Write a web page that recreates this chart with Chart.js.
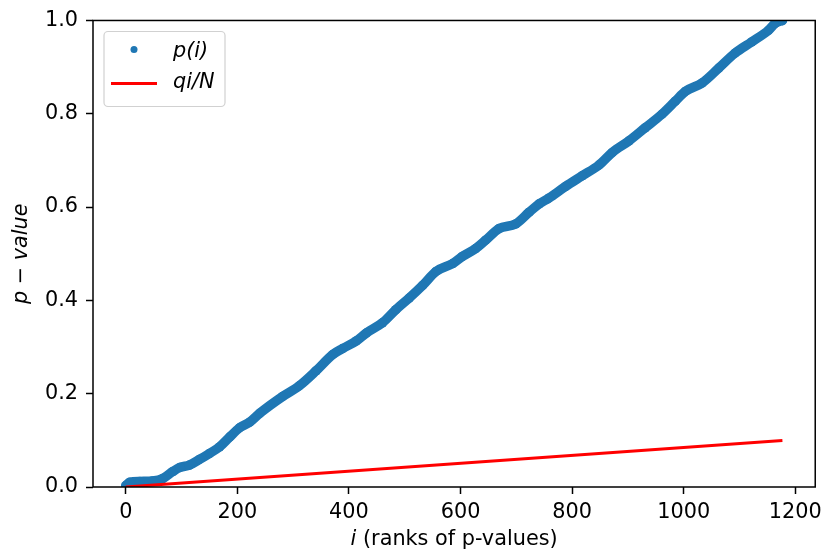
<!DOCTYPE html>
<html><head><meta charset="utf-8">
<script src="https://cdn.jsdelivr.net/npm/chart.js@4/dist/chart.umd.min.js"></script>
<style>html,body{margin:0;padding:0;background:#fff}canvas{display:block}</style>
</head><body>
<canvas id="c" width="828" height="556"></canvas>
<script>
// ---- data ----
const ranks = [0, 7, 25, 48, 66, 84, 97, 114, 132, 150, 168, 186, 204, 222, 240, 281, 311, 341, 371, 389, 413, 431, 460, 484, 508, 532, 556, 586, 603, 627, 645, 669, 699, 723, 741, 758, 788, 818, 848, 872, 902, 931, 961, 985, 1003, 1033, 1063, 1092, 1122, 1152, 1164, 1177];
const pValues = [0.003, 0.010, 0.012, 0.013, 0.018, 0.033, 0.042, 0.047, 0.059, 0.072, 0.086, 0.107, 0.127, 0.139, 0.158, 0.194, 0.217, 0.249, 0.284, 0.297, 0.313, 0.330, 0.352, 0.380, 0.405, 0.432, 0.462, 0.479, 0.494, 0.511, 0.529, 0.554, 0.564, 0.589, 0.607, 0.619, 0.644, 0.667, 0.690, 0.717, 0.742, 0.770, 0.799, 0.827, 0.848, 0.866, 0.898, 0.930, 0.954, 0.979, 0.994, 1.000];
const qRanks = [0, 1177];
const qValues = [0, 0.0999];
const xTicks = [0, 200, 400, 600, 800, 1000, 1200];
const yTicks = [0, 0.2, 0.4, 0.6, 0.8, 1.0];
const seriesLabels = ['p(i)', 'qi/N'];
const xTitleItalic = 'i';
const xTitleRest = ' (ranks of p-values)';
const yTitle = 'p \u2212 value';

// ---- styling ----
const FAMILY = "'DejaVu Sans', sans-serif";
const FS = 20.8;
const BLUE = '#1f77b4';
const RED = '#ff0000';

const framePlugin = {
  id: 'frame',
  afterDatasetsDraw(chart) {
    const {ctx, chartArea: a} = chart;
    ctx.save();
    ctx.strokeStyle = '#000';
    ctx.lineWidth = 1.5;
    ctx.strokeRect(a.left, a.top, a.right - a.left, a.bottom - a.top);
    ctx.restore();
  }
};

const xTitlePlugin = {
  id: 'xTitle',
  afterDraw(chart) {
    const {ctx, chartArea: a} = chart;
    ctx.save();
    ctx.fillStyle = '#000';
    ctx.textBaseline = 'alphabetic';
    const fi = 'italic ' + FS + 'px ' + FAMILY;
    const fn = FS + 'px ' + FAMILY;
    ctx.font = fi; const w1 = ctx.measureText(xTitleItalic).width;
    ctx.font = fn; const w2 = ctx.measureText(xTitleRest).width;
    const cx = (a.left + a.right) / 2;
    const x = cx - (w1 + w2) / 2;
    const y = 545;
    ctx.textAlign = 'left';
    ctx.font = fi; ctx.fillText(xTitleItalic, x, y);
    ctx.font = fn; ctx.fillText(xTitleRest, x + w1, y);
    ctx.restore();
  }
};

const legendPlugin = {
  id: 'boxLegend',
  afterDraw(chart) {
    const {ctx, chartArea: a} = chart;
    const ds = chart.data.datasets;
    const bx = a.left + 11, by = a.top + 11, bw = 121, bh = 75, r = 4;
    ctx.save();
    ctx.beginPath();
    ctx.moveTo(bx + r, by);
    ctx.arcTo(bx + bw, by, bx + bw, by + bh, r);
    ctx.arcTo(bx + bw, by + bh, bx, by + bh, r);
    ctx.arcTo(bx, by + bh, bx, by, r);
    ctx.arcTo(bx, by, bx + bw, by, r);
    ctx.closePath();
    ctx.fillStyle = 'rgba(255,255,255,0.8)';
    ctx.fill();
    ctx.strokeStyle = 'rgba(204,204,204,0.9)';
    ctx.lineWidth = 1.2;
    ctx.stroke();
    const y1 = by + 18, y2 = by + 52;
    ctx.fillStyle = ds[0].backgroundColor;
    ctx.beginPath(); ctx.arc(bx + 30, y1, 3.5, 0, Math.PI * 2); ctx.fill();
    ctx.strokeStyle = ds[1].borderColor;
    ctx.lineWidth = 3;
    ctx.beginPath(); ctx.moveTo(bx + 7, y2); ctx.lineTo(bx + 53, y2); ctx.stroke();
    ctx.fillStyle = '#000';
    ctx.font = 'italic ' + FS + 'px ' + FAMILY;
    ctx.textBaseline = 'alphabetic';
    ctx.textAlign = 'left';
    ctx.fillText(ds[0].label, bx + 69, by + 26);
    ctx.fillText(ds[1].label, bx + 69, by + 57);
    ctx.restore();
  }
};

new Chart(document.getElementById('c'), {
  type: 'scatter',
  data: {
    datasets: [
      {
        label: seriesLabels[0],
        data: ranks.map((r, k) => ({x: r, y: pValues[k]})),
        showLine: true,
        cubicInterpolationMode: 'monotone',
        borderColor: BLUE,
        backgroundColor: BLUE,
        borderWidth: 9.5,
        borderCapStyle: 'round',
        borderJoinStyle: 'round',
        pointRadius: 4.75,
        pointHoverRadius: 4.75,
        pointBorderWidth: 0,
        clip: 0,
        order: 1
      },
      {
        label: seriesLabels[1],
        data: qRanks.map((r, k) => ({x: r, y: qValues[k]})),
        showLine: true,
        borderColor: RED,
        backgroundColor: RED,
        borderWidth: 3,
        pointRadius: 0,
        pointHoverRadius: 0,
        clip: 0,
        order: 0
      }
    ]
  },
  options: {
    responsive: false,
    animation: false,
    devicePixelRatio: 1,
    events: [],
    layout: {padding: {top: 17, right: 11, left: 0, bottom: 0}},
    plugins: {legend: {display: false}, tooltip: {enabled: false}},
    scales: {
      x: {
        type: 'linear',
        min: -58.85,
        max: 1235.85,
        afterFit(s) { s.height = 69; },
        afterBuildTicks(s) { s.ticks = xTicks.map(v => ({value: v})); },
        border: {display: false},
        grid: {display: true, drawOnChartArea: false, drawTicks: true, tickLength: 7, tickColor: '#000', tickWidth: 1.5},
        ticks: {color: '#000', font: {family: FAMILY, size: FS}, padding: 6, maxRotation: 0, autoSkip: false, callback: v => String(v)}
      },
      y: {
        type: 'linear',
        min: 0,
        max: 1,
        afterFit(s) { s.width = 93; },
        afterBuildTicks(s) { s.ticks = yTicks.map(v => ({value: v})); },
        border: {display: false},
        grid: {display: true, drawOnChartArea: false, drawTicks: true, tickLength: 7, tickColor: '#000', tickWidth: 1.5},
        ticks: {color: '#000', font: {family: FAMILY, size: FS}, padding: 8, autoSkip: false, callback: v => Number(v).toFixed(1)},
        title: {display: true, text: yTitle, color: '#000', font: {family: FAMILY, size: FS, style: 'italic'}, padding: {top: 9, bottom: 0}}
      }
    }
  },
  plugins: [framePlugin, xTitlePlugin, legendPlugin]
});
</script>
</body></html>
